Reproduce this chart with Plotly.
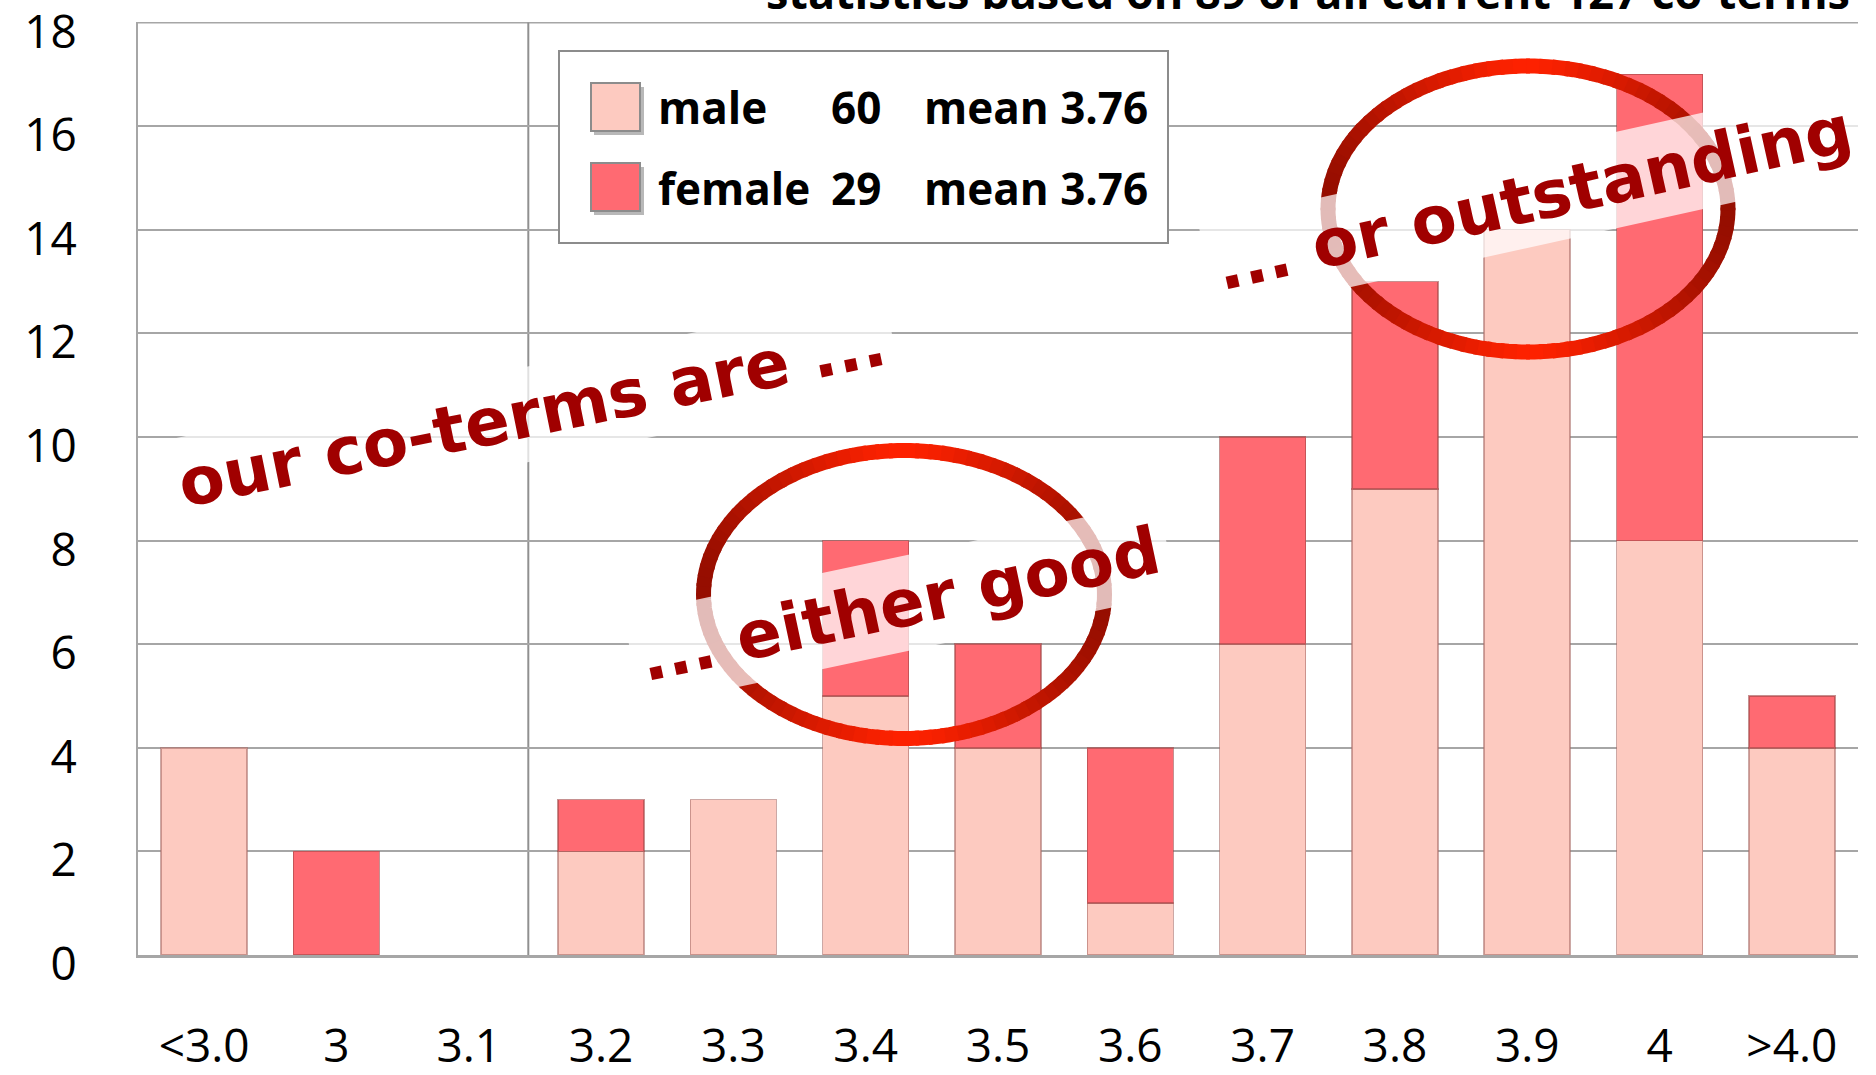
import math
import plotly.graph_objects as go

# GPA buckets of the co-terms, split by gender
categories = ["<3.0", "3", "3.1", "3.2", "3.3", "3.4", "3.5", "3.6", "3.7", "3.8", "3.9", "4", ">4.0"]
male_counts = [4, 0, 0, 2, 3, 5, 4, 1, 6, 9, 14, 8, 4]
female_counts = [0, 2, 0, 1, 0, 3, 2, 3, 4, 4, 0, 9, 1]
y_ticks = [0, 2, 4, 6, 8, 10, 12, 14, 16, 18]

title_text = "statistics based on 89 of all current 127 co-terms"
legend_rows = [("male", "60", "mean 3.76"), ("female", "29", "mean 3.76")]
notes = ["our co-terms are ...", "... either good", "... or outstanding"]

MALE = "#FDCAC0"
FEMALE = "#FF6A72"
GRID = "#A6A6A6"
INK = "#A00000"

W, H = 1876, 1075
ML, MR, MT, MB = 138, 18, 22, 120
PW, PH = W - ML - MR, H - MT - MB


def px(x):
    return (x - ML) / PW


def py(y):
    return (H - MB - y) / PH


def edge_widths(values):
    # no outline on empty segments
    return [0 if v == 0 else 1.5 for v in values]


fig = go.Figure()
fig.add_bar(x=categories, y=male_counts, name="male",
            marker=dict(color=MALE, line=dict(color="rgba(170,110,105,0.6)", width=edge_widths(male_counts))))
fig.add_bar(x=categories, y=female_counts, name="female",
            marker=dict(color=FEMALE, line=dict(color="rgba(160,70,70,0.6)", width=edge_widths(female_counts))))

shapes = []
annotations = []

# top gridline sits on the plot edge, so draw it explicitly
shapes.append(dict(type="line", xref="paper", yref="y", x0=0, x1=1, y0=y_ticks[-1], y1=y_ticks[-1],
                   line=dict(color=GRID, width=2), layer="below"))

# thin vertical divider between 3.1 and 3.2
shapes.append(dict(type="line", xref="x", yref="y", x0=2.45, x1=2.45, y0=0, y1=18,
                   line=dict(color="#909090", width=2), layer="below"))

# hand-drawn style ellipses with a horizontal red gradient
def ellipse(cx, cy, rx, ry, n=96):
    bright = (255, 34, 0)
    dark = (150, 14, 0)
    step = 2 * math.pi / n
    for i in range(n):
        a0 = i * step - step * 0.15
        a1 = (i + 1) * step + step * 0.15
        am = (a0 + a1) / 2
        pts = []
        for a in (a0, am, a1):
            pts.append((px(cx + rx * math.cos(a)), py(cy + ry * math.sin(a))))
        t = abs(math.cos(am)) ** 1.3
        col = tuple(int(bright[k] + (dark[k] - bright[k]) * t) for k in range(3))
        path = "M %f,%f L %f,%f L %f,%f" % (pts[0][0], pts[0][1], pts[1][0], pts[1][1], pts[2][0], pts[2][1])
        shapes.append(dict(type="path", xref="paper", yref="paper", path=path,
                           line=dict(color="rgb(%d,%d,%d)" % col, width=15), layer="above"))


ellipse(904, 594.5, 200.5, 144)
ellipse(1528, 209, 200, 143)

# legend box
shapes.append(dict(type="rect", xref="paper", yref="paper", x0=px(559), x1=px(1168), y0=py(51), y1=py(243),
                   fillcolor="white", line=dict(color="#8C8C8C", width=2), layer="above"))
for (top, bot), col in zip([(83, 131), (163, 211)], [MALE, FEMALE]):
    shapes.append(dict(type="rect", xref="paper", yref="paper", x0=px(594), x1=px(644), y0=py(top + 4), y1=py(bot + 4),
                       fillcolor="rgba(0,0,0,0.28)", line=dict(width=0), layer="above"))
    shapes.append(dict(type="rect", xref="paper", yref="paper", x0=px(591), x1=px(640), y0=py(top), y1=py(bot),
                       fillcolor=col, line=dict(color="#8C8C8C", width=2), layer="above"))

legend_font = dict(family="Open Sans", size=44, color="black", weight="bold")
for (name, count, mean), yc in zip(legend_rows, [107.5, 187.5]):
    annotations.append(dict(xref="paper", yref="paper", x=px(656), y=py(yc), text=name, showarrow=False,
                            xanchor="left", yanchor="middle", font=legend_font))
    annotations.append(dict(xref="paper", yref="paper", x=px(883), y=py(yc), text=count, showarrow=False,
                            xanchor="right", yanchor="middle", font=legend_font))
    annotations.append(dict(xref="paper", yref="paper", x=px(1150), y=py(yc), text=mean, showarrow=False,
                            xanchor="right", yanchor="middle", font=legend_font))

# title, running off the top edge
annotations.append(dict(xref="paper", yref="paper", x=px(1852), y=py(24), text=title_text, showarrow=False,
                        xanchor="right", yanchor="bottom",
                        font=dict(family="Open Sans", size=45, color="black", weight="bold")))

# scribbled remarks on translucent strips
note_font = dict(family="DejaVu Sans", size=66, color=INK, weight="bold")
for text, (cx, cy), ang in zip(notes, [(532, 413), (900, 604), (1533, 198)], [-11.5, -12, -12.5]):
    annotations.append(dict(xref="paper", yref="paper", x=px(cx), y=py(cy), text=text, showarrow=False,
                            xanchor="center", yanchor="middle", textangle=ang, font=note_font,
                            bgcolor="rgba(255,255,255,0.72)", borderpad=8))

fig.update_layout(
    width=W, height=H,
    margin=dict(l=ML, r=MR, t=MT, b=MB, autoexpand=False),
    barmode="stack", bargap=0.35,
    showlegend=False,
    plot_bgcolor="white", paper_bgcolor="white",
    shapes=shapes, annotations=annotations,
    xaxis=dict(type="category", categoryorder="array", categoryarray=categories,
               showgrid=False, showline=True, linecolor=GRID, linewidth=3, automargin=False,
               tickfont=dict(family="Open Sans", size=46, color="black"),
               ticks="", ticklabelstandoff=49, ticklabeloverflow="allow"),
    yaxis=dict(range=[0, 18.01], tickvals=y_ticks, showgrid=True, gridcolor=GRID, gridwidth=2,
               showline=True, linecolor=GRID, linewidth=2, zeroline=False, automargin=False,
               tickfont=dict(family="Open Sans", size=46, color="black"),
               ticks="", ticklabelstandoff=50, ticklabelshift=9, ticklabeloverflow="allow"),
)

fig.write_html("out.html")
